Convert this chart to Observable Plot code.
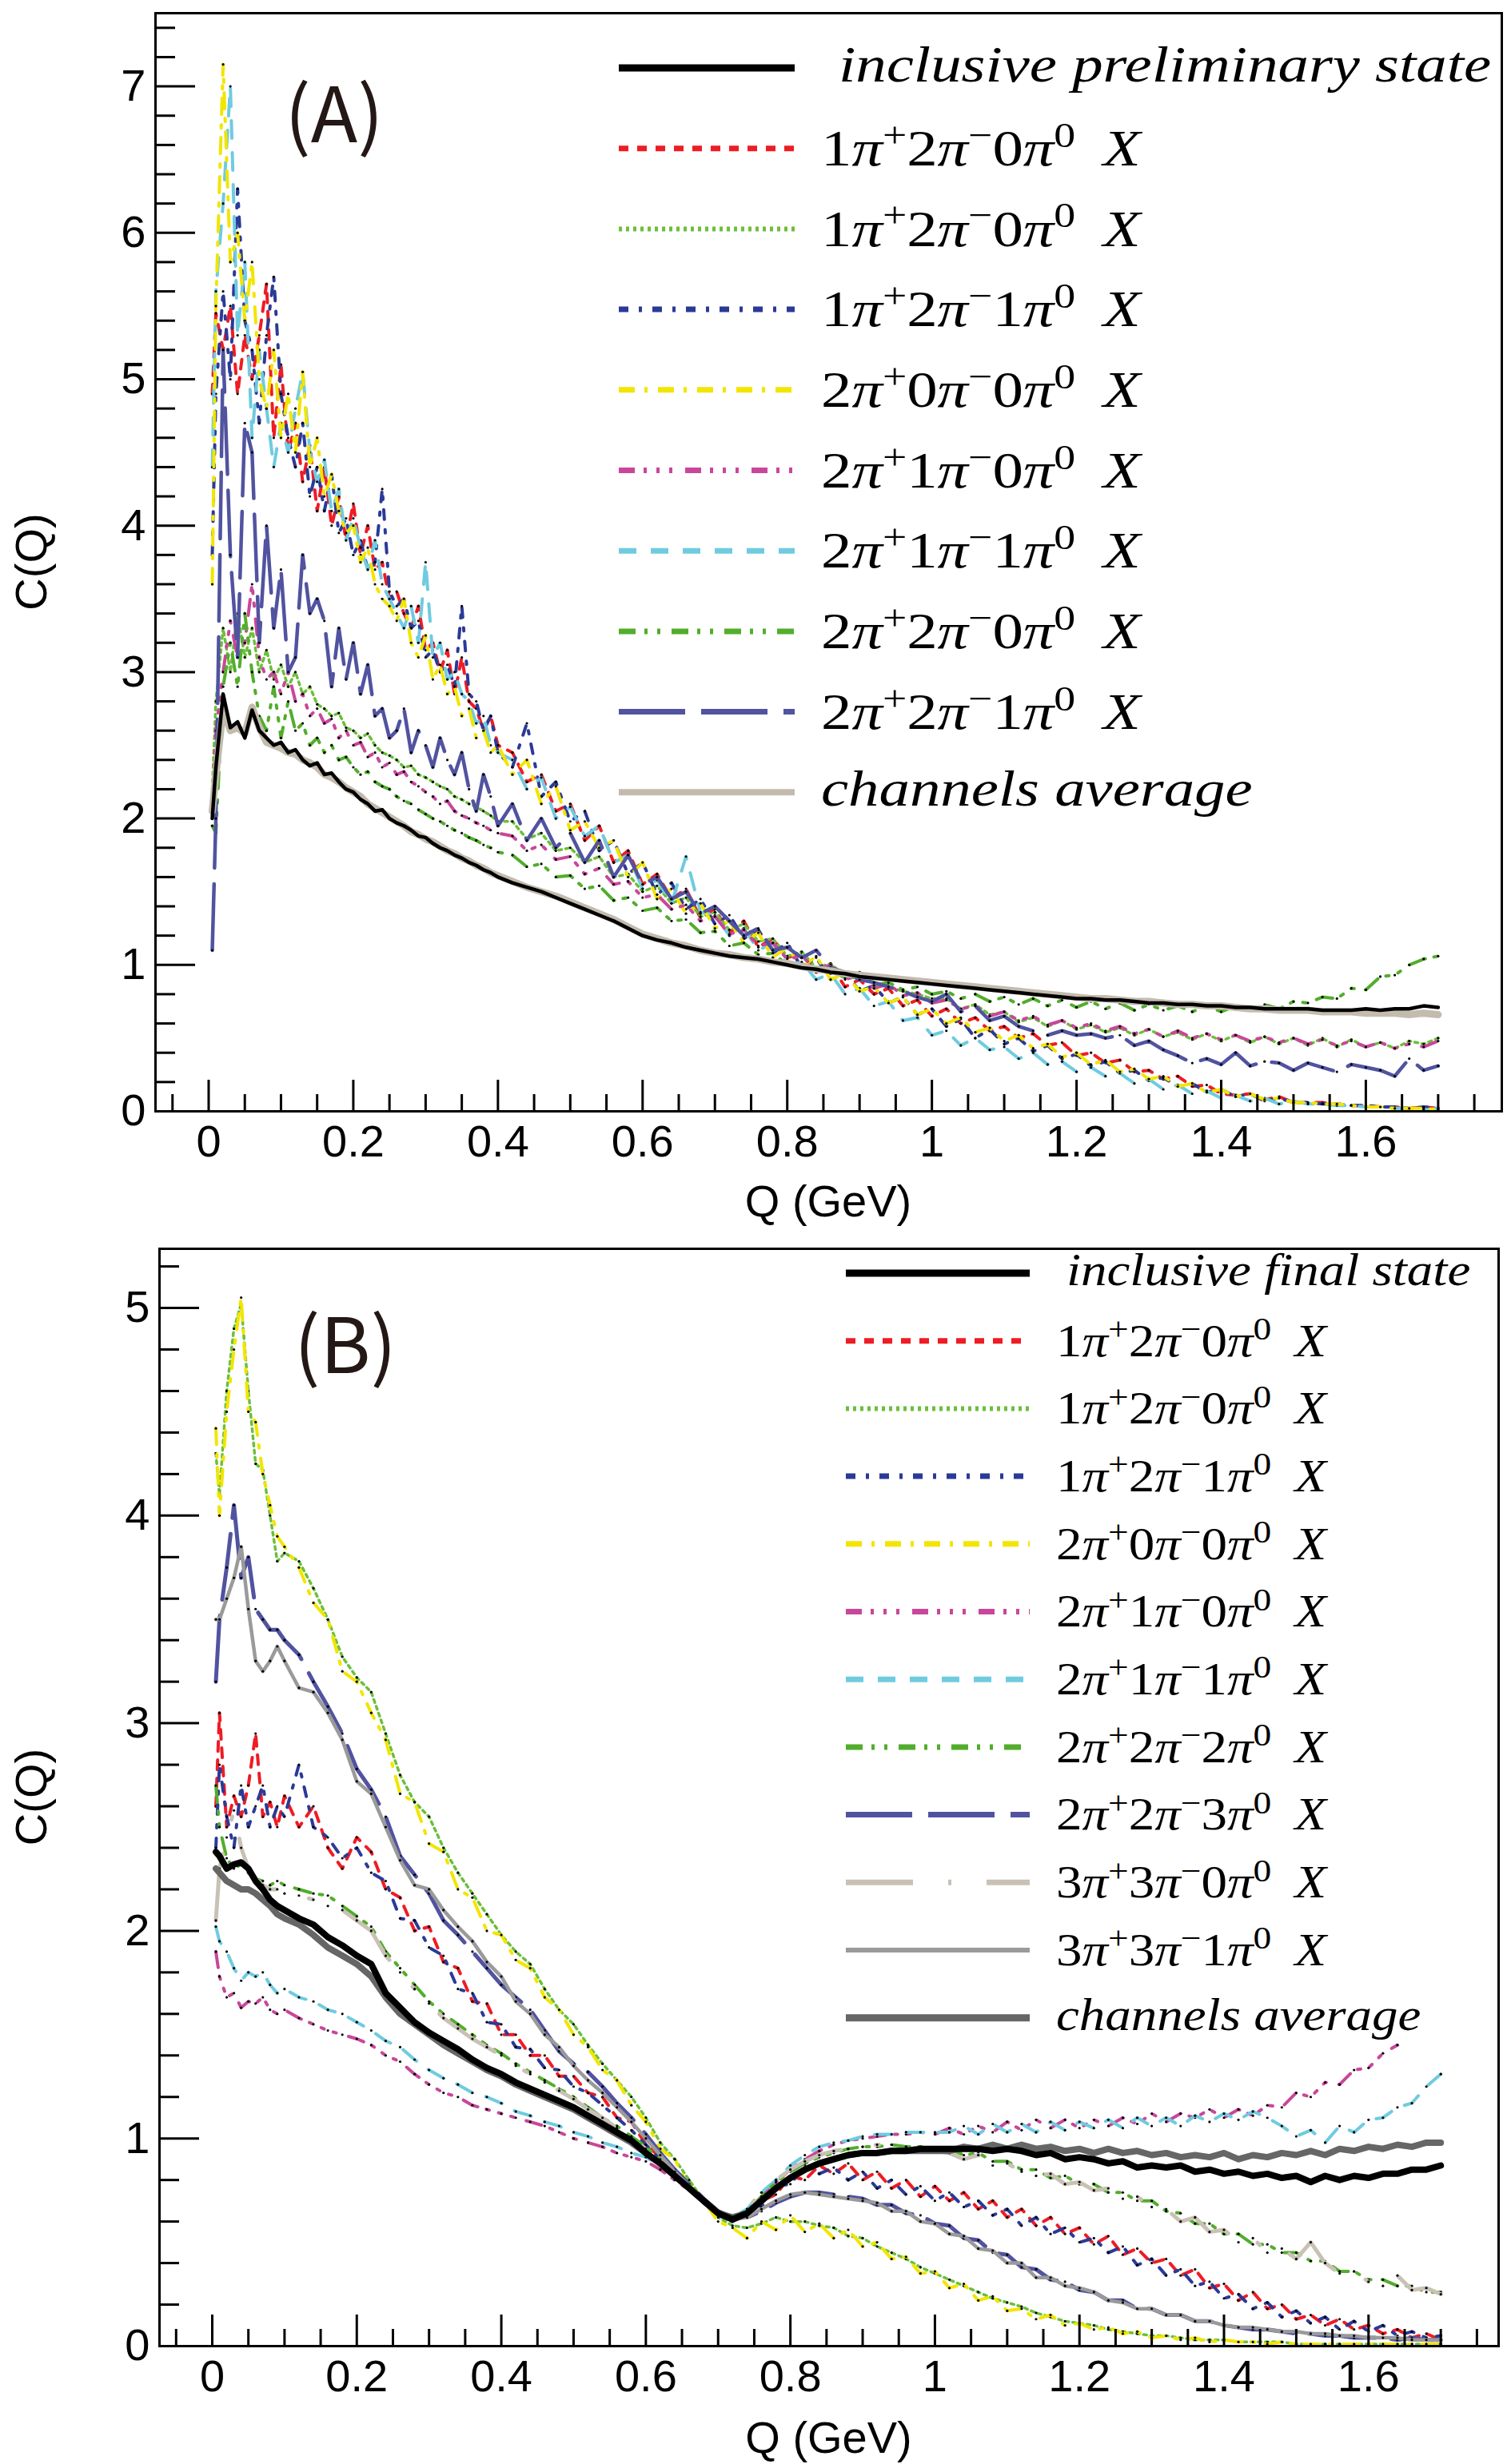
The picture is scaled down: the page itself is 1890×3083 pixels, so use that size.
<!DOCTYPE html>
<html><head><meta charset="utf-8">
<script src="https://cdn.jsdelivr.net/npm/d3@7"></script>
<script src="https://cdn.jsdelivr.net/npm/@observablehq/plot@0.6"></script>
<style>
html,body{margin:0;padding:0;background:#fff;}
#wrap{position:relative;width:1890px;height:3083px;overflow:hidden;background:#fff;}
#wrap > svg{position:absolute;left:0;}
</style></head><body><div id="wrap"></div>
<script>
// ---------- Panel A data ----------
const qA = [0.005,
0.01,0.02,0.03,0.04,0.05,0.06,0.07,0.08,0.09,0.10,
0.11,0.12,0.13,0.14,0.15,0.16,0.17,0.18,0.19,0.20,
0.21,0.22,0.23,0.24,0.25,0.26,0.27,0.28,0.29,0.30,
0.31,0.32,0.33,0.34,0.35,0.36,0.37,0.38,0.39,0.40,
0.42,0.44,0.46,0.48,0.50,0.52,0.54,0.56,0.58,0.60,
0.62,0.64,0.66,0.68,0.70,0.72,0.74,0.76,0.78,0.80,
0.82,0.84,0.86,0.88,0.90,0.92,0.94,0.96,0.98,1.00,
1.02,1.04,1.06,1.08,1.10,1.12,1.14,1.16,1.18,1.20,
1.22,1.24,1.26,1.28,1.30,1.32,1.34,1.36,1.38,1.40,
1.42,1.44,1.46,1.48,1.50,1.52,1.54,1.56,1.58,1.60,
1.62,1.64,1.66,1.68,1.70];

const A_incl = [2.0,
2.35,2.85,2.62,2.66,2.55, 2.74,2.6,2.55,2.5,2.52,
2.45,2.47,2.4,2.36,2.38, 2.3,2.31,2.25,2.2,2.18,
2.13,2.1,2.05,2.06,2.0, 1.97,1.95,1.92,1.88,1.87,
1.83,1.8,1.78,1.75,1.73, 1.7,1.68,1.65,1.63,1.6,
1.56,1.53,1.5,1.46,1.42, 1.38,1.34,1.3,1.25,1.2,
1.17,1.15,1.12,1.1,1.08, 1.06,1.05,1.04,1.02,1.0,
0.98,0.97,0.95,0.94,0.92, 0.91,0.9,0.89,0.88,0.87,
0.86,0.85,0.84,0.83,0.82, 0.81,0.8,0.79,0.78,0.77,
0.77,0.76,0.76,0.75,0.74, 0.74,0.73,0.73,0.72,0.72,
0.71,0.71,0.7,0.7,0.7, 0.7,0.69,0.69,0.69,0.7,
0.69,0.7,0.7,0.72,0.71];

const A_avg = [2.05,
2.3,2.75,2.6,2.62,2.58, 2.76,2.62,2.52,2.5,2.48,
2.45,2.44,2.4,2.38,2.35, 2.3,2.28,2.25,2.21,2.18,
2.15,2.1,2.07,2.04,2.01, 1.98,1.95,1.91,1.89,1.86,
1.84,1.81,1.78,1.76,1.73, 1.71,1.68,1.66,1.63,1.61,
1.57,1.53,1.5,1.47,1.43, 1.39,1.35,1.31,1.26,1.21,
1.18,1.15,1.13,1.1,1.08, 1.07,1.05,1.04,1.02,1.01,
0.99,0.97,0.96,0.94,0.93, 0.92,0.91,0.9,0.89,0.88,
0.87,0.86,0.85,0.84,0.83, 0.82,0.81,0.8,0.79,0.78,
0.77,0.77,0.76,0.75,0.75, 0.74,0.73,0.73,0.72,0.72,
0.71,0.7,0.7,0.69,0.69, 0.69,0.68,0.68,0.68,0.67,
0.67,0.67,0.66,0.67,0.66];

const A_red = [4.9,
5.45,5.2,5.5,4.9,5.3, 5.0,5.3,5.65,4.6,5.1,
4.5,4.7,4.3,4.55,4.1, 4.4,4.0,4.2,3.9,4.15,
3.8,4.0,3.7,3.75,3.5, 3.55,3.4,3.3,3.45,3.15,
3.2,3.0,3.15,2.85,3.1, 2.8,2.75,2.6,2.7,2.5,
2.45,2.25,2.3,2.05,2.1, 1.85,1.95,1.7,1.78,1.55,
1.62,1.45,1.52,1.32,1.38, 1.22,1.3,1.12,1.18,1.05,
1.08,0.95,1.0,0.85,0.9, 0.8,0.84,0.72,0.76,0.65,
0.7,0.6,0.64,0.55,0.58, 0.5,0.53,0.45,0.47,0.38,
0.4,0.33,0.35,0.27,0.28, 0.22,0.24,0.17,0.18,0.12,
0.11,0.12,0.08,0.1,0.06, 0.06,0.06,0.05,0.04,0.04,
0.03,0.03,0.02,0.03,0.02];

const A_green1 = [2.2,
2.8,3.3,3.0,3.4,3.1, 3.3,3.0,3.15,2.95,3.05,
2.9,3.0,2.85,2.9,2.78, 2.75,2.7,2.72,2.62,2.6,
2.55,2.58,2.5,2.45,2.43, 2.4,2.35,2.36,2.3,2.28,
2.25,2.22,2.2,2.15,2.13, 2.1,2.08,2.05,2.02,1.98,
1.98,1.86,1.9,1.78,1.8, 1.7,1.74,1.6,1.62,1.5,
1.54,1.42,1.46,1.33,1.36, 1.24,1.28,1.16,1.18,1.06,
1.09,0.98,1.01,0.92,0.95, 0.88,0.85,0.82,0.8,0.77,
0.77,0.7,0.73,0.66,0.68, 0.61,0.64,0.58,0.62,0.56,
0.59,0.54,0.57,0.52,0.56, 0.51,0.54,0.49,0.53,0.48,
0.52,0.47,0.51,0.46,0.5, 0.45,0.5,0.44,0.49,0.44,
0.47,0.43,0.48,0.46,0.5];

const A_blue = [3.8,
4.9,5.6,5.0,6.3,5.4, 5.2,4.7,5.3,5.7,4.9,
4.6,4.4,4.7,4.2,4.4, 4.1,4.35,3.95,4.05,3.8,
3.9,3.7,3.75,4.25,3.55, 3.45,3.5,3.3,3.35,3.1,
3.15,3.0,3.05,2.9,3.45, 2.85,2.8,2.6,2.7,2.45,
2.35,2.65,2.15,2.25,1.98, 2.05,1.78,1.85,1.62,1.7,
1.48,1.56,1.38,1.45,1.28, 1.34,1.18,1.24,1.08,1.15,
0.98,1.05,0.9,0.95,0.82, 0.86,0.74,0.78,0.66,0.7,
0.58,0.63,0.5,0.56,0.46, 0.5,0.41,0.45,0.36,0.39,
0.31,0.34,0.26,0.28,0.21, 0.23,0.17,0.19,0.13,0.15,
0.1,0.12,0.07,0.09,0.06, 0.06,0.05,0.05,0.04,0.04,
0.03,0.03,0.02,0.03,0.02];

const A_yellow = [3.6,
5.5,7.15,5.8,6.0,5.4, 5.8,5.0,4.8,5.2,4.6,
4.9,4.5,5.05,4.4,4.6, 4.2,4.35,4.1,3.95,4.0,
3.75,3.85,3.6,3.5,3.45, 3.35,3.5,3.2,3.1,3.25,
2.95,3.05,2.85,2.9,2.7, 2.75,2.55,2.6,2.45,2.5,
2.3,2.4,2.1,2.22,1.92, 1.98,1.8,1.85,1.6,1.7,
1.45,1.52,1.35,1.42,1.25, 1.3,1.15,1.22,1.05,1.12,
0.98,1.06,0.9,0.94,0.82, 0.85,0.74,0.78,0.66,0.7,
0.6,0.64,0.54,0.57,0.48, 0.52,0.43,0.46,0.37,0.4,
0.32,0.35,0.27,0.29,0.22, 0.24,0.17,0.19,0.13,0.15,
0.1,0.12,0.08,0.09,0.06, 0.06,0.05,0.05,0.04,0.03,
0.03,0.02,0.02,0.02,0.01];

const A_magenta = [2.1,
2.6,3.0,3.35,3.1,3.2, 3.6,3.1,2.95,3.0,2.85,
3.0,2.8,2.85,2.7,2.75, 2.65,2.68,2.55,2.6,2.5,
2.52,2.42,2.45,2.35,2.38, 2.3,2.32,2.25,2.22,2.18,
2.15,2.1,2.12,2.05,2.02, 2.0,1.97,1.95,1.92,1.9,
1.88,1.78,1.82,1.72,1.74, 1.62,1.66,1.55,1.57,1.46,
1.48,1.38,1.41,1.3,1.33, 1.21,1.24,1.13,1.15,1.04,
1.06,0.97,1.0,0.9,0.93, 0.84,0.87,0.79,0.81,0.74,
0.76,0.7,0.72,0.65,0.68, 0.62,0.65,0.59,0.62,0.57,
0.6,0.55,0.58,0.53,0.56, 0.51,0.55,0.5,0.53,0.49,
0.52,0.48,0.51,0.47,0.5, 0.46,0.49,0.45,0.48,0.44,
0.47,0.43,0.46,0.44,0.48];

const A_cyan = [4.4,
5.6,6.2,7.0,5.3,5.8, 4.6,5.2,4.8,4.4,4.7,
4.5,4.8,5.05,4.5,4.3, 4.45,4.1,4.25,3.9,4.05,
3.85,3.7,3.9,3.6,3.5, 3.4,3.3,3.45,3.2,3.75,
3.1,3.2,2.95,3.0,2.85, 2.8,2.65,2.7,2.5,2.45,
2.4,2.2,2.28,2.0,2.08, 1.88,1.95,1.7,1.75,1.52,
1.58,1.42,1.74,1.36,1.34, 1.2,1.25,1.1,1.15,1.0,
1.02,0.9,0.94,0.8,0.84, 0.72,0.75,0.62,0.64,0.52,
0.55,0.45,0.5,0.42,0.44, 0.36,0.4,0.32,0.34,0.27,
0.3,0.24,0.26,0.19,0.22, 0.15,0.18,0.12,0.14,0.09,
0.11,0.07,0.09,0.05,0.07, 0.05,0.05,0.04,0.04,0.03,
0.03,0.02,0.02,0.01,0.02];

const A_green2 = [1.95,
1.9,2.9,3.2,2.9,3.4, 3.0,2.7,2.6,2.9,2.55,
2.8,2.6,2.65,2.5,2.55, 2.45,2.5,2.4,2.42,2.35,
2.3,2.32,2.25,2.22,2.2, 2.15,2.12,2.1,2.06,2.03,
2.0,1.98,1.95,1.92,1.9, 1.87,1.85,1.82,1.8,1.77,
1.75,1.67,1.69,1.6,1.61, 1.52,1.54,1.44,1.46,1.37,
1.39,1.3,1.31,1.22,1.23, 1.13,1.15,1.07,1.08,1.0,
1.01,0.96,0.97,0.91,0.92, 0.86,0.88,0.83,0.85,0.8,
0.82,0.77,0.8,0.75,0.78, 0.73,0.77,0.72,0.76,0.71,
0.75,0.7,0.74,0.69,0.73, 0.69,0.72,0.68,0.72,0.68,
0.72,0.69,0.73,0.7,0.75, 0.74,0.78,0.77,0.84,0.83,
0.92,0.93,1.0,1.04,1.06];

const A_navy = [1.1,
2.0,5.2,3.8,3.1,4.7, 4.5,3.2,4.0,3.3,3.7,
3.0,3.1,3.8,3.4,3.5, 3.35,2.9,3.3,2.95,3.2,
2.85,3.05,2.7,2.75,2.55, 2.6,2.75,2.45,2.6,2.5,
2.35,2.55,2.4,2.3,2.45, 2.2,2.05,2.3,2.15,1.95,
2.1,1.85,2.0,1.8,1.9, 1.7,1.85,1.6,1.75,1.55,
1.6,1.45,1.5,1.35,1.4, 1.3,1.2,1.25,1.1,1.12,
1.05,1.1,0.98,0.95,0.9, 0.88,0.85,0.82,0.78,0.75,
0.8,0.68,0.72,0.62,0.65, 0.58,0.55,0.52,0.55,0.52,
0.53,0.5,0.52,0.45,0.48, 0.42,0.38,0.33,0.36,0.32,
0.4,0.31,0.34,0.33,0.28, 0.33,0.3,0.27,0.32,0.3,
0.28,0.24,0.36,0.28,0.31];

// ---------- Panel B data ----------
const qB = [0.005,
0.01,0.02,0.03,0.04,0.05,0.06,0.07,0.08,0.09,0.10,
0.12,0.14,0.16,0.18,0.20,0.22,0.24,0.26,0.28,0.30,
0.32,0.34,0.36,0.38,0.40,0.42,0.44,0.46,0.48,0.50,
0.52,0.54,0.56,0.58,0.60,0.62,0.64,0.66,0.68,0.70,
0.72,0.74,0.76,0.78,0.80,0.82,0.84,0.86,0.88,0.90,
0.92,0.94,0.96,0.98,1.00,1.02,1.04,1.06,1.08,1.10,
1.12,1.14,1.16,1.18,1.20,1.22,1.24,1.26,1.28,1.30,
1.32,1.34,1.36,1.38,1.40,1.42,1.44,1.46,1.48,1.50,
1.52,1.54,1.56,1.58,1.60,1.62,1.64,1.66,1.68,1.70];

const B_incl = [2.38,
2.36,2.3,2.32,2.33,2.3, 2.24,2.2,2.15,2.12,2.1,
2.06,2.03,1.97,1.93,1.88, 1.84,1.7,1.63,1.56,1.51,
1.47,1.43,1.38,1.34,1.31, 1.27,1.24,1.21,1.18,1.15,
1.11,1.07,1.03,0.99,0.93, 0.88,0.82,0.76,0.7,0.64,
0.61,0.64,0.7,0.76,0.81, 0.85,0.88,0.9,0.92,0.93,
0.93,0.94,0.94,0.95,0.95, 0.95,0.95,0.95,0.94,0.95,
0.94,0.92,0.93,0.9,0.91, 0.9,0.88,0.89,0.86,0.87,
0.86,0.87,0.84,0.85,0.83, 0.84,0.82,0.83,0.81,0.82,
0.79,0.82,0.8,0.82,0.81, 0.83,0.83,0.85,0.85,0.87];

const B_avg = [2.3,
2.28,2.24,2.22,2.2,2.2, 2.18,2.15,2.12,2.08,2.06,
2.03,1.98,1.92,1.88,1.84, 1.78,1.68,1.6,1.55,1.5,
1.45,1.41,1.37,1.33,1.3, 1.26,1.23,1.2,1.17,1.14,
1.1,1.06,1.02,0.98,0.93, 0.88,0.82,0.76,0.7,0.64,
0.62,0.64,0.7,0.76,0.81, 0.85,0.88,0.9,0.92,0.93,
0.93,0.94,0.94,0.94,0.94, 0.94,0.96,0.95,0.97,0.95,
0.97,0.95,0.96,0.94,0.95, 0.93,0.95,0.93,0.94,0.92,
0.93,0.91,0.92,0.91,0.93, 0.9,0.92,0.91,0.93,0.92,
0.94,0.92,0.95,0.94,0.96, 0.95,0.97,0.96,0.98,0.98];

const B_red = [2.6,
3.05,2.5,2.65,2.55,2.7, 2.95,2.55,2.62,2.5,2.65,
2.5,2.6,2.4,2.3,2.45, 2.38,2.2,2.16,2.0,2.02,
1.85,1.82,1.66,1.65,1.5, 1.5,1.4,1.4,1.3,1.3,
1.22,1.2,1.1,1.08,0.97, 0.91,0.84,0.77,0.7,0.64,
0.61,0.65,0.7,0.73,0.82, 0.8,0.87,0.83,0.88,0.8,
0.84,0.76,0.8,0.72,0.77, 0.7,0.74,0.66,0.7,0.62,
0.66,0.58,0.62,0.54,0.57, 0.49,0.53,0.44,0.47,0.4,
0.42,0.34,0.37,0.28,0.3, 0.22,0.26,0.18,0.2,0.13,
0.15,0.1,0.13,0.08,0.1, 0.06,0.08,0.04,0.06,0.03];

const B_green1 = [4.3,
4.1,4.6,4.9,5.02,4.6, 4.25,4.22,4.0,3.78,3.82,
3.78,3.65,3.5,3.32,3.22, 3.15,2.95,2.75,2.62,2.55,
2.4,2.28,2.18,2.08,1.98, 1.9,1.84,1.72,1.62,1.55,
1.45,1.36,1.28,1.2,1.1, 0.98,0.9,0.8,0.7,0.62,
0.58,0.57,0.59,0.62,0.6, 0.6,0.58,0.57,0.53,0.52,
0.48,0.45,0.42,0.38,0.35, 0.32,0.29,0.26,0.23,0.21,
0.19,0.16,0.14,0.12,0.11, 0.1,0.08,0.07,0.06,0.05,
0.05,0.04,0.03,0.03,0.03, 0.02,0.02,0.02,0.02,0.01,
0.01,0.01,0.01,0.01,0.01, 0.01,0.01,0.01,0.01,0.01];

const B_blue = [2.4,
2.8,2.55,2.4,2.7,2.5, 2.6,2.7,2.5,2.6,2.55,
2.8,2.5,2.45,2.35,2.4, 2.28,2.24,2.06,2.05,1.92,
1.88,1.72,1.7,1.56,1.55, 1.44,1.43,1.34,1.33,1.25,
1.22,1.16,1.1,1.04,0.97, 0.9,0.83,0.76,0.69,0.63,
0.6,0.64,0.67,0.77,0.78, 0.87,0.83,0.86,0.8,0.84,
0.76,0.8,0.73,0.77,0.7, 0.74,0.67,0.7,0.63,0.66,
0.58,0.62,0.54,0.57,0.5, 0.52,0.45,0.48,0.39,0.42,
0.34,0.37,0.29,0.31,0.23, 0.25,0.18,0.21,0.14,0.17,
0.11,0.14,0.08,0.12,0.07, 0.1,0.05,0.07,0.04,0.05];

const B_yellow = [4.42,
4.0,4.5,4.8,5.05,4.5, 4.45,4.2,4.05,3.9,3.85,
3.75,3.58,3.5,3.25,3.2, 3.05,2.92,2.66,2.62,2.42,
2.38,2.2,2.16,2.0,1.98, 1.86,1.82,1.68,1.62,1.5,
1.44,1.33,1.28,1.16,1.08, 0.95,0.9,0.76,0.7,0.6,
0.57,0.52,0.6,0.56,0.63, 0.55,0.59,0.52,0.56,0.48,
0.5,0.42,0.43,0.35,0.36, 0.28,0.3,0.22,0.24,0.17,
0.18,0.13,0.15,0.1,0.11, 0.08,0.09,0.06,0.07,0.04,
0.05,0.03,0.04,0.02,0.03, 0.02,0.02,0.01,0.02,0.01,
0.01,0.01,0.01,0.01,0.01, 0.01,0.01,0.01,0.01,0.01];

const B_magenta = [1.9,
1.78,1.68,1.7,1.63,1.66, 1.65,1.68,1.62,1.6,1.62,
1.58,1.55,1.52,1.5,1.48, 1.45,1.4,1.37,1.31,1.26,
1.22,1.2,1.16,1.14,1.12, 1.1,1.08,1.06,1.03,1.0,
0.98,0.96,0.93,0.91,0.89, 0.85,0.8,0.75,0.69,0.63,
0.6,0.64,0.72,0.79,0.85, 0.9,0.94,0.97,0.99,1.0,
1.01,1.02,1.02,1.03,1.02, 1.05,1.02,1.06,1.03,1.08,
1.04,1.09,1.05,1.09,1.05, 1.09,1.06,1.1,1.07,1.12,
1.08,1.12,1.1,1.14,1.1, 1.14,1.11,1.16,1.15,1.22,
1.2,1.27,1.26,1.33,1.34, 1.41,1.45,null,null,null];

const B_cyan = [2.02,
1.95,1.9,1.82,1.76,1.8, 1.78,1.8,1.74,1.7,1.72,
1.68,1.66,1.62,1.6,1.56, 1.52,1.47,1.44,1.38,1.33,
1.29,1.26,1.22,1.2,1.17, 1.13,1.11,1.08,1.06,1.03,
1.01,0.98,0.96,0.93,0.91, 0.87,0.82,0.76,0.7,0.64,
0.62,0.66,0.74,0.8,0.87, 0.92,0.96,0.98,0.99,1.01,
1.02,1.02,1.03,1.03,1.03, 1.03,1.06,1.02,1.07,1.03,
1.07,1.03,1.08,1.04,1.08, 1.05,1.09,1.05,1.1,1.06,
1.1,1.06,1.11,1.08,1.12, 1.09,1.13,1.1,1.06,1.01,
1.04,0.98,1.06,1.03,1.09, 1.1,1.15,1.17,1.25,1.31];

const B_green2 = [2.7,
2.5,2.35,2.3,2.32,2.28, 2.25,2.24,2.22,2.24,2.22,
2.2,2.18,2.17,2.12,2.07, 2.02,1.9,1.82,1.74,1.66,
1.6,1.55,1.5,1.45,1.41, 1.36,1.32,1.28,1.24,1.2,
1.15,1.1,1.06,1.01,0.96, 0.9,0.84,0.78,0.71,0.65,
0.62,0.65,0.72,0.79,0.84, 0.88,0.91,0.93,0.95,0.96,
0.96,0.97,0.96,0.96,0.95, 0.95,0.92,0.93,0.89,0.89,
0.85,0.85,0.81,0.82,0.78, 0.78,0.74,0.74,0.7,0.7,
0.65,0.64,0.59,0.59,0.54, 0.54,0.49,0.49,0.45,0.45,
0.41,0.41,0.36,0.36,0.32, 0.32,0.29,0.29,0.26,0.26];

const B_navy = [3.2,
3.5,3.75,4.05,3.7,3.8, 3.55,3.5,3.45,3.45,3.4,
3.33,3.2,3.08,2.95,2.78, 2.68,2.55,2.36,2.27,2.18,
2.05,1.98,1.9,1.82,1.74, 1.68,1.62,1.52,1.42,1.36,
1.32,1.25,1.17,1.1,1.02, 0.93,0.85,0.78,0.71,0.65,
0.62,0.62,0.65,0.69,0.72, 0.74,0.74,0.73,0.72,0.71,
0.68,0.68,0.64,0.63,0.59, 0.58,0.52,0.51,0.45,0.44,
0.38,0.37,0.32,0.31,0.27, 0.26,0.22,0.22,0.18,0.18,
0.15,0.15,0.12,0.12,0.1, 0.09,0.08,0.08,0.07,0.06,
0.06,0.05,0.05,0.04,0.04, 0.04,0.03,0.04,0.03,0.03];

const B_tan = [2.05,
2.3,2.45,2.58,2.4,2.3, 2.25,2.22,2.2,2.2,2.18,
2.17,2.15,2.12,2.1,2.05, 2.0,1.88,1.8,1.72,1.65,
1.58,1.53,1.48,1.44,1.4, 1.35,1.31,1.27,1.23,1.19,
1.14,1.1,1.05,1.0,0.95, 0.89,0.83,0.77,0.7,0.64,
0.62,0.66,0.74,0.8,0.85, 0.89,0.92,0.94,0.95,0.96,
0.97,0.97,0.96,0.95,0.94, 0.93,0.9,0.92,0.87,0.88,
0.84,0.82,0.83,0.78,0.79, 0.75,0.76,0.71,0.72,0.67,
0.66,0.6,0.62,0.55,0.56, 0.5,0.52,0.45,0.47,0.42,
0.5,0.4,0.35,0.36,0.31, 0.29,0.34,0.27,0.28,0.25];

const B_gray = [3.5,
3.5,3.6,3.7,3.85,3.55, 3.3,3.25,3.3,3.37,3.3,
3.17,3.15,3.05,2.92,2.72, 2.66,2.5,2.34,2.22,2.2,
2.1,2.02,1.95,1.85,1.78, 1.66,1.6,1.5,1.44,1.35,
1.28,1.22,1.15,1.08,1.0, 0.92,0.84,0.77,0.7,0.64,
0.61,0.62,0.66,0.7,0.73, 0.74,0.73,0.72,0.71,0.7,
0.69,0.65,0.65,0.6,0.59, 0.54,0.53,0.47,0.46,0.4,
0.4,0.33,0.33,0.29,0.28, 0.26,0.22,0.21,0.18,0.18,
0.15,0.15,0.12,0.12,0.1, 0.09,0.09,0.08,0.07,0.07,
0.06,0.06,0.05,0.05,0.04, 0.04,0.04,0.03,0.03,0.03];

// ---------- tick values and labels ----------
const xMajor = [0, 0.2, 0.4, 0.6, 0.8, 1, 1.2, 1.4, 1.6];
const xMinor = [-0.05,0.05,0.1,0.15,0.25,0.3,0.35,0.45,0.5,0.55,0.65,0.7,0.75,0.85,0.9,0.95,1.05,1.1,1.15,1.25,1.3,1.35,1.45,1.5,1.55,1.65,1.7,1.75];
const yMajorA = [0,1,2,3,4,5,6,7];
const yMajorB = [0,1,2,3,4,5];
const xTitle = "Q (GeV)";
const yTitle = "C(Q)";

// ---------- styles ----------
const RED = "#ee1c24", GRN = "#6cbf3a", BLU = "#2b3a97", YEL = "#f2e500",
      MAG = "#c9479a", CYN = "#6fcbe0", GRN2 = "#52ad2c", NAVY = "#5153a0",
      TAN = "#c3bbae", TAN2 = "#c9c1b5", GRAY = "#9a9a9a", DGRAY = "#666666";
const D = {
  red: "12,11", dot: "4,5", dashdot: "12,13,4,13", ydashdot: "20,12,4,13",
  dd3: "20,11,4,12,4,12,4,16", dashed: "22,18", dd2: "21,11,4,12,4,14",
  longdash: "83,20", tan: "84,44,4,44"
};

const seriesA = [
  {label: {it: "inclusive preliminary state"}, v: A_incl, color: "#000", w: 4.5, lw: 9},
  {label: [1,2,0], v: A_red, color: RED, w: 4, lw: 7, dash: D.red, dots: true},
  {label: [1,2,0], v: A_green1, color: GRN, w: 3.5, lw: 6, dash: D.dot, dots: true},
  {label: [1,2,1], v: A_blue, color: BLU, w: 4, lw: 7, dash: D.dashdot, dots: true},
  {label: [2,0,0], v: A_yellow, color: YEL, w: 4, lw: 7, dash: D.ydashdot, dots: true},
  {label: [2,1,0], v: A_magenta, color: MAG, w: 4, lw: 7, dash: D.dd3, dots: true},
  {label: [2,1,1], v: A_cyan, color: CYN, w: 4, lw: 7, dash: D.dashed, dots: true},
  {label: [2,2,0], v: A_green2, color: GRN2, w: 4, lw: 7, dash: D.dd2, dots: true},
  {label: [2,2,1], v: A_navy, color: NAVY, w: 4.5, lw: 7, dash: D.longdash, dots: true},
  {label: {it: "channels average"}, v: A_avg, color: TAN, w: 9, lw: 8}
];
const drawA = [1,2,3,6,4,5,7,8,9,0];

const seriesB = [
  {label: {it: "inclusive final state"}, v: B_incl, color: "#000", w: 8, lw: 9},
  {label: [1,2,0], v: B_red, color: RED, w: 4, lw: 7, dash: D.red, dots: true},
  {label: [1,2,0], v: B_green1, color: GRN, w: 3.5, lw: 6, dash: D.dot, dots: true},
  {label: [1,2,1], v: B_blue, color: BLU, w: 4, lw: 7, dash: D.dashdot, dots: true},
  {label: [2,0,0], v: B_yellow, color: YEL, w: 4, lw: 7, dash: D.ydashdot, dots: true},
  {label: [2,1,0], v: B_magenta, color: MAG, w: 4, lw: 7, dash: D.dd3, dots: true},
  {label: [2,1,1], v: B_cyan, color: CYN, w: 4, lw: 7, dash: D.dashed, dots: true},
  {label: [2,2,2], v: B_green2, color: GRN2, w: 4, lw: 7, dash: D.dd2, dots: true},
  {label: [2,2,3], v: B_navy, color: NAVY, w: 5, lw: 7, dash: D.longdash, dots: true},
  {label: [3,3,0], v: B_tan, color: TAN2, w: 5, lw: 7, dash: D.tan, dots: true},
  {label: [3,3,1], v: B_gray, color: GRAY, w: 4.5, lw: 6, dots: true},
  {label: {it: "channels average"}, v: B_avg, color: DGRAY, w: 8, lw: 9}
];
const drawB = [5,6,1,3,2,4,7,9,8,10,11,0];

function makePanel(o) {
  const marks = [];
  o.order.forEach(i => {
    const s = o.series[i];
    const data = o.q.map((x, k) => ({x, y: s.v[k]})).filter(d => d.y != null);
    const opt = {x: "x", y: "y", stroke: s.color, strokeWidth: s.w, strokeLinejoin: "round"};
    if (s.dash) opt.strokeDasharray = s.dash;
    marks.push(Plot.line(data, opt));
    if (s.dots) marks.push(Plot.dot(data, {x: "x", y: "y", r: 1.6, fill: "#000", stroke: null}));
  });
  marks.push(
    Plot.axisX({ticks: xMajor, tickSize: -39, tickPadding: 56, tickFormat: d3.format("~g"), fontSize: 56, strokeWidth: 3, label: null}),
    Plot.axisX({ticks: xMinor, tickSize: -21, text: null, tickFormat: () => "", strokeWidth: 3, label: null}),
    Plot.axisY({ticks: o.yMajor, tickSize: -50, tickPadding: 62, tickFormat: d3.format("d"), fontSize: 56, strokeWidth: 3, label: null}),
    Plot.axisY({ticks: o.yMinor, tickSize: -25, text: null, tickFormat: () => "", strokeWidth: 3, label: null}),
    Plot.frame({stroke: "#000", strokeWidth: 3})
  );
  return Plot.plot({
    width: 1890, height: o.height,
    marginLeft: o.ml, marginRight: o.mr, marginTop: o.mt, marginBottom: o.mb,
    x: {domain: o.xDomain, label: null},
    y: {domain: [0, o.yMax], label: null},
    style: {background: "transparent", fontFamily: "'Liberation Sans', Arial, sans-serif", color: "#000", overflow: "visible"},
    marks
  });
}

const wrap = document.getElementById("wrap");
const yMinorA = d3.range(0, 7.45, 0.2).filter(v => Math.abs(v - Math.round(v)) > 1e-6);
const yMinorB = d3.range(0, 5.25, 0.2).filter(v => Math.abs(v - Math.round(v)) > 1e-6);

const pA = makePanel({q: qA, series: seriesA, order: drawA, xDomain: [-0.0735, 1.788], yMax: 7.5,
  yMajor: yMajorA, yMinor: yMinorA, height: 1540, ml: 194, mr: 12, mt: 16, mb: 150});
pA.style.top = "0px";
wrap.appendChild(pA);

const pB = makePanel({q: qB, series: seriesB, order: drawB, xDomain: [-0.073, 1.78], yMax: 5.285,
  yMajor: yMajorB, yMinor: yMinorB, height: 1543, ml: 199, mr: 16, mt: 22, mb: 148});
pB.style.top = "1540px";
wrap.appendChild(pB);

// ---------- overlay: titles, panel tags, legends ----------
const ov = d3.create("svg").attr("width", 1890).attr("height", 3083)
  .style("position", "absolute").style("left", "0px").style("top", "0px").style("pointer-events", "none");

function axisTitles(frameL, frameR, frameT, frameB, xBase) {
  ov.append("text").attr("x", (frameL + frameR) / 2).attr("y", xBase)
    .attr("text-anchor", "middle").attr("font-family", "'Liberation Sans', Arial, sans-serif")
    .attr("font-size", 56).text(xTitle);
  ov.append("text").attr("transform", `translate(58,${(frameT + frameB) / 2}) rotate(-90)`)
    .attr("text-anchor", "middle").attr("font-family", "'Liberation Sans', Arial, sans-serif")
    .attr("font-size", 56).text(yTitle);
}
axisTitles(194, 1878, 16, 1390, 1522);
axisTitles(199, 1874, 1562, 2935, 3069);

function tag(t, x, y) {
  ov.append("text").attr("x", x).attr("y", y).attr("text-anchor", "middle")
    .attr("font-family", "'Noto Sans CJK SC', 'Noto Sans', sans-serif").attr("font-size", 96)
    .attr("fill", "#231815").text(t);
}
tag("(A)", 418, 178);
tag("(B)", 432, 1718);

function legend(series, c) {
  series.forEach((s, i) => {
    const y = c.y0 + i * c.step;
    const ln = ov.append("line").attr("x1", c.x1).attr("x2", c.x2).attr("y1", y).attr("y2", y)
      .attr("stroke", s.color).attr("stroke-width", s.lw);
    if (s.dash) ln.attr("stroke-dasharray", s.dash);
    const F = c.fs;
    const isIt = !Array.isArray(s.label);
    const tx = isIt && i === 0 ? c.txIncl : c.tx;
    const g = ov.append("g").attr("transform", `translate(${tx},${y + (isIt ? 0.26 : 0.33) * F}) scale(${c.sx},1)`);
    const t = g.append("text").attr("font-family", "'Liberation Serif', 'Times New Roman', serif")
      .attr("font-size", F).attr("fill", "#000");
    if (isIt) { t.attr("font-style", "italic").text(s.label.it); return; }
    const sup = 0.7 * F, r = 0.36 * F;
    const marks = ["+", "\u2212", "0"];
    let pend = 0;
    const add = (txt, attrs) => {
      const ts = t.append("tspan").text(txt);
      if (pend) { ts.attr("dy", pend); pend = 0; }
      for (const k in attrs) ts.attr(k, attrs[k]);
      return ts;
    };
    s.label.forEach((n, j) => {
      add(String(n), {});
      add("\u03c0", {"font-style": "italic"});
      add(marks[j], {"font-size": sup, dy: -r});
      pend = r;
    });
    add("X", {"font-style": "italic", dx: 0.45 * F});
  });
}
legend(seriesA, {x1: 774, x2: 994, tx: 1027, txIncl: 1049, y0: 85, step: 100.7, fs: 64, sx: 1.2});
legend(seriesB, {x1: 1058, x2: 1288, tx: 1321, txIncl: 1334, y0: 1593, step: 84.7, fs: 57, sx: 1.14});

wrap.appendChild(ov.node());
</script></body></html>
